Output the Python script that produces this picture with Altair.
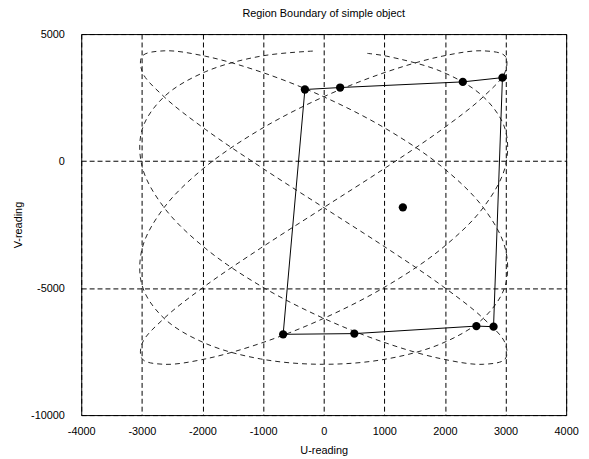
import altair as alt
import pandas as pd

# Dashed scan trace (U, V) in drawing order
curve_u = [720, 1040, 1955, 2633, 2994, 2994, 2633, 1955, 1040, 0,
           -1040, -1955, -2633, -2994, -2994, -2633, -1955, -1040, 0, 1040,
           1955, 2633, 2994, 2994, 2633, 1955, 1040, 0, -1040, -1955,
           -2633, -2994, -2994, -2633, -1955, -1040, 0, 1040, 1955, 2633,
           2994, 2994, 2633, 1955, 1040, 0, -1040, -1955, -2633, -2994,
           -2994, -2633, -1955, -1040, 0, 1040, 1955, 2633, 2994, 2994,
           2633, 1955, 1040, 0, -1040, -1955, -2633, -2994, -2994, -2633,
           -1955, -1040, -150]
curve_v = [4240, 4130, 3513, 2532, 1255, -232, -1830, -3428, -4915, -6192,
           -7173, -7790, -8000, -7790, -7173, -6192, -4915, -3428, -1830, -232,
           1255, 2532, 3513, 4130, 4340, 4130, 3513, 2532, 1255, -232,
           -1830, -3428, -4915, -6192, -7173, -7790, -8000, -7790, -7173, -6192,
           -4915, -3428, -1830, -232, 1255, 2532, 3513, 4130, 4340, 4130,
           3513, 2532, 1255, -232, -1830, -3428, -4915, -6192, -7173, -7790,
           -8000, -7790, -7173, -6192, -4915, -3428, -1830, -232, 1255, 2532,
           3513, 4130, 4335]

# Region boundary vertices (closed polygon)
boundary_u = [-669, -310, 271, 2295, 2949, 2802, 2519, 506]
boundary_v = [-6820, 2818, 2895, 3118, 3285, -6520, -6496, -6792]

# Centroid
centroid_u = [1306]
centroid_v = [-1820]

x_ticks = [-4000, -3000, -2000, -1000, 0, 1000, 2000, 3000, 4000]
y_ticks = [-10000, -5000, 0, 5000]

rows = []
for i, (u, v) in enumerate(zip(curve_u, curve_v)):
    rows.append({"kind": "curve", "u": u, "v": v, "i": i})
poly_u = boundary_u + boundary_u[:1]
poly_v = boundary_v + boundary_v[:1]
for i, (u, v) in enumerate(zip(poly_u, poly_v)):
    rows.append({"kind": "poly", "u": u, "v": v, "i": i})
for i, (u, v) in enumerate(zip(boundary_u + centroid_u, boundary_v + centroid_v)):
    rows.append({"kind": "dot", "u": u, "v": v, "i": i})
df = pd.DataFrame(rows)

FONT = "Liberation Sans"
xs = alt.Scale(domain=[-4000, 4000], nice=False, zero=False)
ys = alt.Scale(domain=[-10000, 5000], nice=False, zero=False)

x_axis = alt.Axis(values=x_ticks, title="U-reading", grid=True, gridDash=[5, 3],
                  gridColor="black", gridOpacity=1, gridWidth=1, domain=False,
                  ticks=False, labelPadding=11, labelFlush=False,
                  labelOverlap=False, labelExpr="datum.value + ''",
                  labelFont=FONT, labelFontSize=11, labelColor="black",
                  titleFont=FONT, titleFontSize=11, titleFontWeight="normal",
                  titleColor="black", titlePadding=8)
y_axis = alt.Axis(values=y_ticks, title="V-reading", grid=True, gridDash=[5, 3],
                  gridColor="black", gridOpacity=1, gridWidth=1, domain=False,
                  ticks=False, labelPadding=17, labelFlush=False,
                  labelOverlap=False, labelExpr="datum.value + ''",
                  labelFont=FONT, labelFontSize=11, labelColor="black",
                  titleFont=FONT, titleFontSize=11, titleFontWeight="normal",
                  titleColor="black", titlePadding=7)

base = alt.Chart(df).encode(
    x=alt.X("u:Q", scale=xs, axis=x_axis),
    y=alt.Y("v:Q", scale=ys, axis=y_axis),
    order="i:Q",
)

curve = base.transform_filter(alt.datum.kind == "curve").mark_line(
    color="#222222", strokeWidth=1, strokeDash=[5, 4], interpolate="catmull-rom"
)
boundary = base.transform_filter(alt.datum.kind == "poly").mark_line(
    color="black", strokeWidth=1
)
dots = base.transform_filter(alt.datum.kind == "dot").mark_point(
    filled=True, shape="circle", size=70, color="black", opacity=1
)

chart = alt.layer(curve, boundary, dots).properties(
    width=490,
    height=385,
    title=alt.TitleParams("Region Boundary of simple object", font=FONT, fontSize=11,
                          fontWeight="normal", color="black", anchor="middle",
                          offset=9),
    autosize=alt.AutoSizeParams(type="none"),
    padding={"left": 74, "top": 24, "right": 15, "bottom": 40},
).configure_view(stroke="black", strokeWidth=1)

chart.save("out.html", embed_options={"renderer": "svg", "actions": False})
